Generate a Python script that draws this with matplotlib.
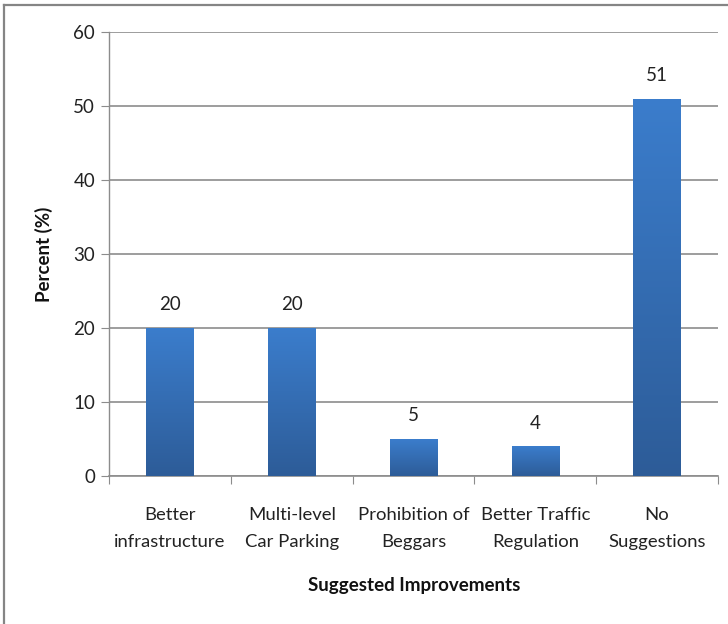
import numpy as np
import matplotlib
matplotlib.use("Agg")
import matplotlib.pyplot as plt
from matplotlib.lines import Line2D
from matplotlib.colors import LinearSegmentedColormap

categories = ["Better\ninfrastructure", "Multi-level\nCar Parking", "Prohibition of\nBeggars",
              "Better Traffic\nRegulation", "No\nSuggestions"]
values = [20, 20, 5, 4, 51]
y_ticks = [0, 10, 20, 30, 40, 50, 60]

plt.rcParams['font.family'] = ['Lato', 'DejaVu Sans']

W, H = 728, 624
fig = plt.figure(figsize=(W / 100, H / 100), dpi=100)
ax = fig.add_axes([109 / W, 1 - 476 / H, (718 - 109) / W, (476 - 32) / H])

grid_c = "#8c8c8c"
x = np.arange(len(categories))
bars = ax.bar(x, values, width=0.39, color="#3a78c4", zorder=2)

# vertical gradient fill clipped to each bar
cmap = LinearSegmentedColormap.from_list("barfill", ["#2d5c98", "#3b7dcc"])
grad = np.linspace(0, 1, 256).reshape(-1, 1)
for b in bars:
    x0, y0 = b.get_x(), b.get_y()
    im = ax.imshow(grad, extent=(x0, x0 + b.get_width(), y0, y0 + b.get_height()),
                   origin="lower", cmap=cmap, aspect="auto", zorder=3)
    im.set_clip_path(b)

for xi, v in zip(x, values):
    ax.text(xi, v + 2.0, str(v), ha="center", va="bottom", fontsize=13.5, color="#222222")

ax.set_xlim(-0.5, len(categories) - 0.5)
ax.set_ylim(0, 60)
ax.set_yticks(y_ticks)
ax.tick_params(axis="y", length=6, color=grid_c, labelsize=13.5, pad=4, labelcolor="#222222")
ax.set_xticks(np.arange(len(categories) + 1) - 0.5, minor=False)
ax.set_xticklabels([""] * (len(categories) + 1))
ax.tick_params(axis="x", length=6, color=grid_c)
ax.set_xticks(x, minor=True)
ax.set_xticklabels(categories, minor=True)
ax.tick_params(axis="x", which="minor", length=0, labelsize=13.3, pad=22, labelcolor="#222222")
for lbl in ax.get_xticklabels(minor=True):
    lbl.set_linespacing(1.85)

ax.grid(axis="y", color=grid_c, linewidth=1.2, zorder=0)
ax.set_axisbelow(True)
for s in ["top", "right"]:
    ax.spines[s].set_visible(False)
ax.spines["left"].set_color(grid_c)
ax.spines["bottom"].set_color(grid_c)
ax.spines["left"].set_linewidth(1.0)
ax.spines["bottom"].set_linewidth(1.2)

fig.text(44 / W, 1 - 254 / H, "Percent (%)", rotation=90, ha="center", va="center",
         fontsize=13.5, fontweight="bold", color="#111111")
fig.text(414 / W, 1 - 586 / H, "Suggested Improvements", ha="center", va="center",
         fontsize=13.5, fontweight="bold", color="#111111")

# outer frame (left and top edges)
fig.add_artist(Line2D([4 / W, 4 / W], [0, 1 - 5 / H], color="#858585", linewidth=1.6,
                      transform=fig.transFigure))
fig.add_artist(Line2D([4 / W, 1], [1 - 5 / H, 1 - 5 / H], color="#858585", linewidth=1.6,
                      transform=fig.transFigure))

fig.savefig("out.png", dpi=100)
